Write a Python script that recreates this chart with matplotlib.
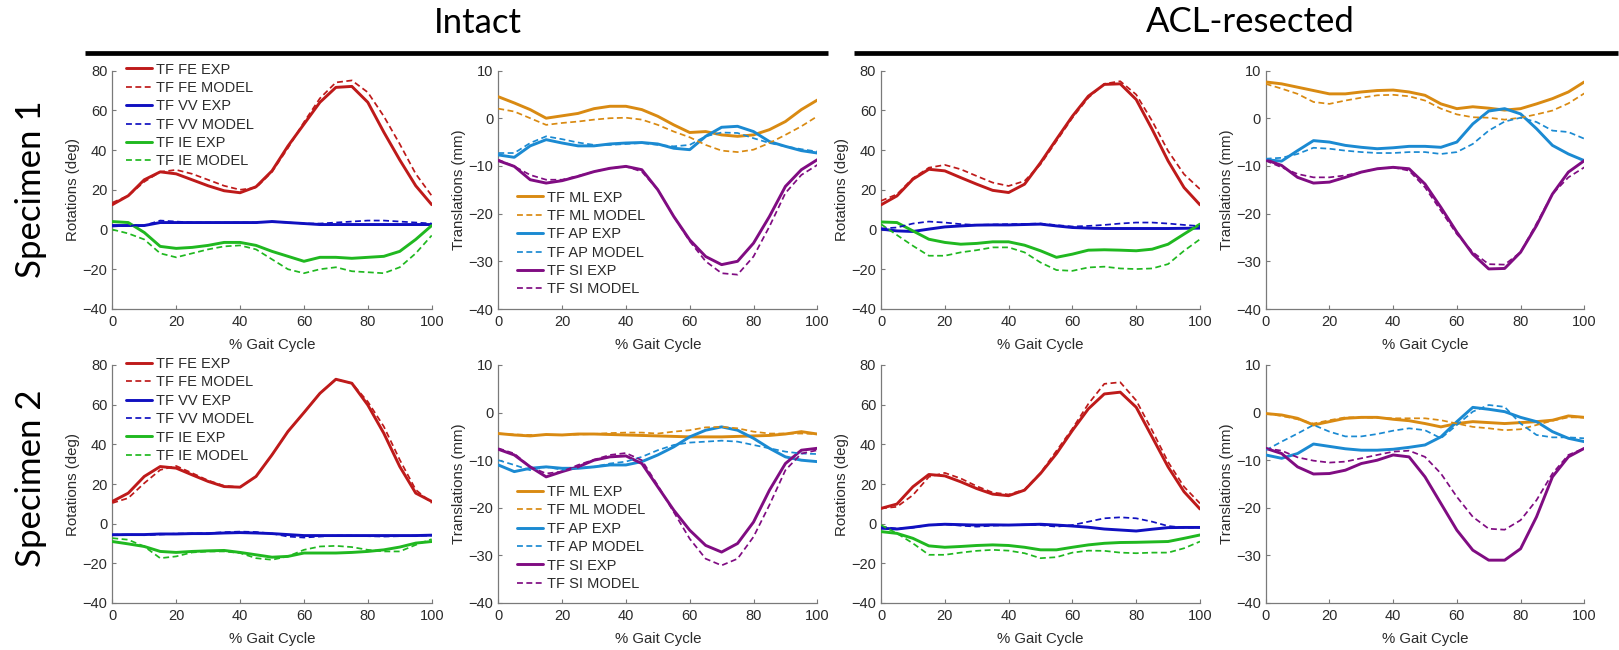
import matplotlib
matplotlib.use("Agg")
import matplotlib.pyplot as plt
from matplotlib.lines import Line2D
import numpy as np

# ---------------- data (x = % gait cycle) ----------------
gait = np.arange(0, 101, 5)

# Specimen 1, intact, rotations (deg)
s1i_fe_exp = [12.5, 17, 25, 29, 28, 25, 22, 19.5, 18.5, 21.5, 29.5, 42, 53, 64, 71.5, 72, 64, 49, 35, 22, 12.5]
s1i_fe_mod = [13.5, 17, 24, 29, 30, 28, 25, 22, 20, 21, 29, 41, 54, 66, 74, 75, 69, 57, 43, 28, 17]
s1i_vv_exp = [2, 2, 2, 3.5, 3.5, 3.5, 3.5, 3.5, 3.5, 3.5, 4, 3.5, 3, 2.5, 2.5, 2.5, 2.5, 2.5, 2.5, 2.5, 2.5]
s1i_vv_mod = [1.5, 2, 2, 4.5, 4, 3.5, 3.5, 3.5, 3.5, 3.5, 4, 3.5, 3, 3, 3.5, 4, 4.5, 4.5, 4, 3.5, 3]
s1i_ie_exp = [4, 3.5, -1.5, -8.5, -9.5, -9, -8, -6.5, -6.5, -8, -11, -13.5, -16, -14, -14, -14.5, -14, -13.5, -11, -5, 2]
s1i_ie_mod = [0, -2, -5, -12, -14, -12, -10, -8.5, -8, -10, -15, -20, -22, -20, -19, -21, -21.5, -22, -19, -12, -3]

# Specimen 1, intact, translations (mm)
s1i_ml_exp = [4.5, 3.2, 1.8, 0, 0.5, 1, 2, 2.5, 2.5, 1.8, 0.4, -1.4, -3, -2.8, -3.5, -3.8, -3.5, -2.4, -0.7, 1.8, 3.8]
s1i_ml_mod = [2, 1.4, 0, -1.4, -1, -0.7, -0.3, 0, 0.1, -0.3, -1.4, -2.8, -4, -5.6, -6.8, -7.1, -6.6, -5.2, -3.5, -1.7, 0.4]
s1i_ap_exp = [-7.7, -8.2, -5.8, -4.5, -5.2, -5.8, -5.8, -5.4, -5.2, -5.1, -5.4, -6.3, -6.6, -3.8, -1.9, -1.7, -2.8, -4.9, -5.9, -6.8, -7.3]
s1i_ap_mod = [-7.3, -7.3, -5.2, -3.8, -4.4, -5.1, -5.6, -5.6, -5.4, -5.2, -5.6, -5.9, -5.6, -3.8, -3, -3.1, -4.2, -5.2, -5.9, -6.5, -7]
s1i_si_exp = [-8.9, -10.1, -12.9, -13.6, -13.1, -12.2, -11.2, -10.5, -10.1, -10.8, -15, -20.6, -25.5, -29, -30.7, -30, -26.2, -20.6, -14.3, -10.8, -8.7]
s1i_si_mod = [-8.7, -10.1, -11.9, -12.9, -12.9, -12.1, -11.2, -10.5, -10.1, -11.2, -15, -20.6, -25.8, -30, -32.5, -32.8, -29, -22.7, -15.7, -11.9, -9.8]

# Specimen 1, ACL-resected, rotations (deg)
s1a_fe_exp = [12.4, 16.9, 25.3, 30.3, 29.5, 26.1, 22.8, 19.7, 18.6, 22.8, 33.6, 45.4, 57, 67.1, 73, 73.3, 65.4, 50.4, 34.5, 21.1, 12.4]
s1a_fe_mod = [14.4, 17.7, 25.8, 31.1, 32.5, 30.3, 26.9, 23.6, 21.9, 24.4, 32.8, 44.5, 56.2, 66.3, 73.3, 74.6, 67.9, 54.6, 39.5, 27.8, 20.3]
s1a_vv_exp = [0.2, -0.7, -1, 0.2, 1.3, 1.8, 2.2, 2.3, 2.3, 2.5, 2.7, 1.8, 1, 0.7, 0.5, 0.5, 0.5, 0.5, 0.5, 0.6, 0.7]
s1a_vv_mod = [0.5, 1, 3, 4, 3.5, 2.7, 2.3, 2.5, 2.7, 2.8, 3, 2.2, 1.5, 1.8, 2.3, 3, 3.5, 3.5, 3, 2.3, 1.7]
s1a_ie_exp = [3.8, 3.5, -0.7, -4.9, -6.5, -7.4, -7, -6.2, -6.2, -7.9, -10.7, -14, -12.4, -10.4, -10.2, -10.4, -10.7, -9.9, -7.4, -2.3, 2.7]
s1a_ie_mod = [2.7, -2.8, -8.2, -13.2, -13.2, -11.5, -10.4, -9, -9, -11.5, -16.6, -20.4, -20.8, -19.1, -18.7, -19.6, -19.9, -19.6, -17.4, -10.7, -4.9]

# Specimen 1, ACL-resected, translations (mm)
s1a_ml_exp = [7.6, 7.2, 6.5, 5.8, 5.1, 5.1, 5.5, 5.8, 5.9, 5.5, 4.8, 3, 2, 2.4, 2.1, 1.7, 2, 3, 4.1, 5.5, 7.6]
s1a_ml_mod = [7.2, 6.2, 5.1, 3.4, 3, 3.7, 4.3, 4.8, 4.9, 4.6, 3.7, 2, 0.8, 0.2, 0.1, -0.3, 0.1, 0.8, 1.6, 3.1, 5.2]
s1a_ap_exp = [-8.7, -9, -6.8, -4.7, -5, -5.7, -6.1, -6.4, -6.2, -5.9, -5.9, -6.1, -5, -1.2, 1.5, 2, 0.9, -2.2, -5.7, -7.5, -8.9]
s1a_ap_mod = [-8.5, -8.3, -7.5, -6.2, -6.4, -6.8, -7.1, -7.3, -7.3, -7.1, -7.1, -7.5, -7.1, -5.4, -2.6, -0.7, 0.1, -0.8, -2.6, -2.9, -4.3]
s1a_si_exp = [-8.7, -9.9, -12.4, -13.6, -13.4, -12.4, -11.3, -10.6, -10.3, -10.6, -13.8, -18.7, -23.9, -28.5, -31.6, -31.5, -28.1, -22.5, -15.9, -11.3, -8.9]
s1a_si_mod = [-8.9, -10.3, -11.7, -12.4, -12.4, -12, -11.3, -10.6, -10.3, -11, -14.5, -19.4, -24.3, -28.1, -30.6, -30.7, -28.1, -22.1, -15.9, -12.4, -10.3]

# Specimen 2, intact, rotations (deg)
s2i_fe_exp = [11.2, 15.4, 23.8, 28.8, 28, 24.6, 21.3, 18.7, 18.4, 23.8, 34.7, 46.5, 56, 65.7, 72.8, 70.8, 59.8, 45.6, 28.8, 15.4, 11.2]
s2i_fe_mod = [10.4, 12.9, 20.4, 27.1, 29.1, 25.5, 21.8, 19.1, 18.4, 23.8, 34.7, 46.5, 56, 65.7, 72.8, 70.8, 61.5, 49, 32.2, 17.1, 10.4]
s2i_vv_exp = [-5.6, -5.5, -5.5, -5.2, -5.2, -5, -5, -4.7, -4.5, -4.7, -5, -5.5, -6, -6, -6, -6, -6, -6, -6, -6, -5.8]
s2i_vv_mod = [-5.5, -5.6, -5.8, -5.5, -5, -5, -4.8, -4.3, -4, -4.2, -5, -6.5, -7, -6.5, -6, -6, -6.3, -6.5, -6.3, -6, -6]
s2i_ie_exp = [-9, -10.2, -11.5, -14, -14.5, -14, -13.7, -13.5, -14.5, -15.7, -16.9, -16.5, -14.8, -14.8, -14.8, -14.5, -14, -13.2, -11.8, -9.8, -9]
s2i_ie_mod = [-7.3, -8.1, -11.5, -17.4, -16.5, -14.5, -14, -14, -14.8, -17.4, -18.2, -16.5, -13.2, -11.5, -11.2, -11.8, -13.2, -14, -14, -10.7, -7.8]

# Specimen 2, intact, translations (mm)
s2i_ml_exp = [-4.4, -4.7, -4.9, -4.6, -4.7, -4.5, -4.5, -4.6, -4.7, -4.8, -4.9, -5, -5.1, -5.1, -5.1, -5, -4.9, -4.8, -4.5, -4, -4.5]
s2i_ml_mod = [-4.4, -4.6, -4.7, -4.7, -4.7, -4.6, -4.5, -4.3, -4.2, -4.2, -4.4, -4, -3.7, -3.1, -3, -3.3, -4, -4.4, -4.4, -4.4, -4.5]
s2i_ap_exp = [-11, -12.4, -11.7, -11.4, -11.7, -11.7, -11.4, -11, -11, -10.3, -8.9, -7.2, -5.1, -3.7, -3, -3.7, -5.4, -7.5, -9.3, -10, -10.3]
s2i_ap_mod = [-10, -11, -12.1, -11.4, -12, -11.7, -11.4, -10.7, -10.3, -9.3, -7.9, -6.8, -6.3, -6.1, -5.9, -6.1, -6.8, -7.5, -8.2, -8.6, -8.7]
s2i_si_exp = [-7.7, -8.9, -11.4, -13.5, -12.4, -11.4, -10, -9.3, -9.1, -10.7, -15.6, -20.5, -24.7, -27.9, -29.3, -27.5, -23, -16.3, -10.7, -7.9, -7.5]
s2i_si_mod = [-7.5, -8.6, -11.4, -12.8, -12.4, -11, -9.9, -8.9, -8.5, -10, -15.3, -20.9, -26.5, -30.7, -32.1, -30.7, -26.1, -19.4, -12.1, -8.6, -7.9]

# Specimen 2, ACL-resected, rotations (deg)
s2a_fe_exp = [7.7, 9.9, 18.6, 24.8, 24.1, 21.1, 17.7, 14.9, 14.1, 16.9, 25.3, 35.3, 47, 57.9, 65.4, 66.3, 58.7, 43.7, 28.6, 16.1, 7.4]
s2a_fe_mod = [7.7, 8.5, 14.4, 23.6, 25.6, 22.8, 18.9, 15.7, 14.7, 17.2, 25.6, 36.7, 47.9, 60.4, 70.5, 71.3, 62.1, 47, 31.1, 18.6, 10.2]
s2a_vv_exp = [-2.3, -2.7, -1.8, -0.7, -0.3, -0.5, -0.7, -0.6, -0.7, -0.5, -0.3, -0.7, -1.2, -1.8, -2.7, -3.2, -3.7, -2.8, -2, -1.9, -1.9]
s2a_vv_mod = [-1.5, -2.5, -2, -0.7, -0.3, -1, -1.5, -1, -0.7, -0.5, -0.7, -1.5, -0.7, 1, 2.7, 3.2, 2.7, 1, -1.2, -2, -1.9]
s2a_ie_exp = [-4, -4.9, -7.4, -11.2, -11.9, -11.5, -11, -10.7, -11, -11.9, -13.2, -13.2, -11.9, -10.7, -9.9, -9.5, -9.4, -9.2, -9, -7.4, -5.7]
s2a_ie_mod = [-0.7, -4.9, -9.9, -15.7, -15.7, -14.6, -13.7, -13.2, -13.6, -14.9, -17.4, -16.9, -14.6, -13.6, -13.7, -14.6, -14.9, -14.6, -14.6, -12.4, -9]

# Specimen 2, ACL-resected, translations (mm)
s2a_ml_exp = [-0.2, -0.5, -1.2, -2.6, -1.9, -1.2, -1, -1, -1.4, -1.7, -2.3, -3, -2.3, -1.9, -2.1, -2.3, -2.1, -1.9, -1.6, -0.7, -1]
s2a_ml_mod = [-0.2, -0.7, -1.4, -2.3, -1.6, -1, -1, -1.1, -1.2, -1.2, -1.2, -1.6, -2.3, -3, -3.3, -3.7, -3.5, -2.6, -1.7, -1, -1]
s2a_ap_exp = [-8.9, -9.6, -8.6, -6.6, -7.1, -7.6, -7.9, -7.9, -7.7, -7.3, -6.8, -5.1, -1.9, 1.1, 0.7, 0.2, -1, -1.9, -4, -5.4, -6.1]
s2a_ap_mod = [-7.9, -6.1, -4.4, -2.6, -4, -5, -5, -4.5, -3.8, -3.3, -3.7, -5.4, -2.6, 0.2, 1.6, 1.2, -2.3, -4.7, -5.2, -5.2, -5.4]
s2a_si_exp = [-7.5, -8.6, -11.4, -12.9, -12.8, -12.1, -10.7, -10, -8.9, -9.3, -13.5, -19.1, -24.7, -28.9, -31, -31, -28.6, -21.9, -13.5, -9.3, -7.5]
s2a_si_mod = [-7.5, -8, -9.4, -10.1, -10.5, -10.3, -9.6, -8.9, -8.2, -8, -9.3, -12.8, -17.7, -21.9, -24.4, -24.6, -22.6, -18.4, -12.8, -8.9, -7.5]

rot_labels = ["TF FE EXP", "TF FE MODEL", "TF VV EXP", "TF VV MODEL", "TF IE EXP", "TF IE MODEL"]
trans_labels = ["TF ML EXP", "TF ML MODEL", "TF AP EXP", "TF AP MODEL", "TF SI EXP", "TF SI MODEL"]
col_titles = ["Intact", "ACL-resected"]
row_titles = ["Specimen 1", "Specimen 2"]
rot_ticks = [-40, -20, 0, 20, 40, 60, 80]
trans_ticks = [-40, -30, -20, -10, 0, 10]
x_ticks = [0, 20, 40, 60, 80, 100]

# ---------------- styling ----------------
C_FE, C_VV, C_IE = "#BE1A1A", "#1010C0", "#20B820"
C_ML, C_AP, C_SI = "#D98A12", "#1B8AD2", "#800C82"
TXT = "#2b2b2b"
SPINE = "#7a7a7a"
LW_EXP, LW_MOD = 2.1, 1.25
DASH = (3.4, 2.0)
TICK_FS, LABEL_FS, LEG_FS = 10.5, 10.8, 10.5
TF = "Liberation Sans"

W, H = 1619, 650
fig = plt.figure(figsize=(W / 100, H / 100), dpi=100)
fig.patch.set_facecolor("white")

def add_ax(l, t, r, b):
    return fig.add_axes([l / W, 1 - b / H, (r - l) / W, (b - t) / H])

def style(ax, kind):
    for s in ("top", "right"):
        ax.spines[s].set_visible(False)
    for s in ("left", "bottom"):
        ax.spines[s].set_color(SPINE)
        ax.spines[s].set_linewidth(0.9)
    ax.set_xlim(0, 100)
    ax.set_xticks(x_ticks)
    if kind == "rot":
        ax.set_ylim(-40, 80)
        ax.set_yticks(rot_ticks)
        ax.set_ylabel("Rotations (deg)", fontsize=LABEL_FS, family=TF, color=TXT)
    else:
        ax.set_ylim(-40, 10)
        ax.set_yticks(trans_ticks)
        ax.set_ylabel("Translations (mm)", fontsize=LABEL_FS, family=TF, color=TXT)
    ax.set_xlabel("% Gait Cycle", fontsize=LABEL_FS, family=TF, color=TXT)
    ax.tick_params(direction="in", length=3.0, width=0.8, color=SPINE,
                   labelsize=TICK_FS, labelcolor=TXT)
    ax.tick_params(axis="y", pad=3.5)
    ax.tick_params(axis="x", pad=4.5)
    for lab in ax.get_xticklabels() + ax.get_yticklabels():
        lab.set_family(TF)
    h = ax.get_position().height * H
    w = ax.get_position().width * W
    ax.yaxis.set_label_coords(-39 / w, 0.5)
    ax.yaxis.label.set_va("center")
    ax.xaxis.set_label_coords(0.5, -36 / h)
    ax.xaxis.label.set_va("center")

def draw(ax, series, colors, labels, legend_anchor=None):
    handles = []
    cols6 = [colors[0], colors[0], colors[1], colors[1], colors[2], colors[2]]
    for i, (ys, c, lab) in enumerate(zip(series, cols6, labels)):
        if i % 2 == 0:
            ln, = ax.plot(gait, ys, color=c, lw=LW_EXP, solid_capstyle="round",
                          solid_joinstyle="round", label=lab, zorder=3)
        else:
            ln, = ax.plot(gait, ys, color=c, lw=LW_MOD, dashes=DASH, label=lab, zorder=4)
        handles.append(ln)
    if legend_anchor is not None:
        leg = ax.legend(handles=handles, loc="upper left", bbox_to_anchor=legend_anchor,
                        frameon=False, handlelength=1.8, handletextpad=0.25,
                        labelspacing=0.30, borderpad=0, borderaxespad=0,
                        prop={"family": TF, "size": LEG_FS})
        for t in leg.get_texts():
            t.set_color(TXT)

cols = [(112.3, 431.7), (498.3, 817.3), (881, 1200), (1265.7, 1584.3)]
rows = [(70.5, 309), (365, 603)]

panels = [
    [(s1i_fe_exp, s1i_fe_mod, s1i_vv_exp, s1i_vv_mod, s1i_ie_exp, s1i_ie_mod),
     (s1i_ml_exp, s1i_ml_mod, s1i_ap_exp, s1i_ap_mod, s1i_si_exp, s1i_si_mod),
     (s1a_fe_exp, s1a_fe_mod, s1a_vv_exp, s1a_vv_mod, s1a_ie_exp, s1a_ie_mod),
     (s1a_ml_exp, s1a_ml_mod, s1a_ap_exp, s1a_ap_mod, s1a_si_exp, s1a_si_mod)],
    [(s2i_fe_exp, s2i_fe_mod, s2i_vv_exp, s2i_vv_mod, s2i_ie_exp, s2i_ie_mod),
     (s2i_ml_exp, s2i_ml_mod, s2i_ap_exp, s2i_ap_mod, s2i_si_exp, s2i_si_mod),
     (s2a_fe_exp, s2a_fe_mod, s2a_vv_exp, s2a_vv_mod, s2a_ie_exp, s2a_ie_mod),
     (s2a_ml_exp, s2a_ml_mod, s2a_ap_exp, s2a_ap_mod, s2a_si_exp, s2a_si_mod)],
]

for r, (t, b) in enumerate(rows):
    for c, (l, rr) in enumerate(cols):
        ax = add_ax(l, t, rr, b)
        kind = "rot" if c % 2 == 0 else "trans"
        style(ax, kind)
        if kind == "rot":
            anchor = (13.5 / (rr - l), 1 + 8 / (b - t)) if c == 0 else None
            draw(ax, panels[r][c], (C_FE, C_VV, C_IE), rot_labels, anchor)
        else:
            anchor = (18.5 / (rr - l), 1 - 120 / (b - t)) if c == 1 else None
            draw(ax, panels[r][c], (C_ML, C_AP, C_SI), trans_labels, anchor)

# column headers with rules
HF = "Lato"
fig.text(478 / W, 1 - 33 / H, col_titles[0], ha="center", va="baseline", fontsize=25, family=HF, color="black")
fig.text(1250 / W, 1 - 32 / H, col_titles[1], ha="center", va="baseline", fontsize=25, family=HF, color="black")
fig.add_artist(Line2D([85 / W, 828 / W], [1 - 52.7 / H] * 2, lw=3.4, color="black", solid_capstyle="butt"))
fig.add_artist(Line2D([854 / W, 1618 / W], [1 - 52.7 / H] * 2, lw=3.4, color="black", solid_capstyle="butt"))

# row labels
fig.text(31 / W, 1 - 189 / H, row_titles[0], rotation=90, ha="center", va="center", fontsize=25, family=HF, color="black")
fig.text(31 / W, 1 - 478 / H, row_titles[1], rotation=90, ha="center", va="center", fontsize=25, family=HF, color="black")

fig.savefig("out.png", dpi=100, facecolor="white")
